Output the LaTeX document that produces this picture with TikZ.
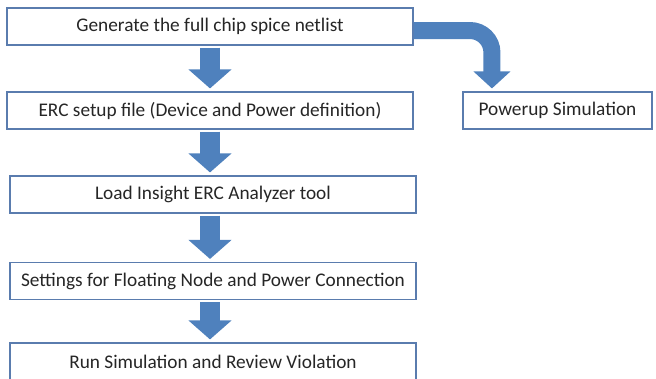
\documentclass[tikz,border=0pt]{standalone}
\usepackage{fontspec}
\setmainfont{Carlito}
\usepackage{tikz}
\usetikzlibrary{positioning}
\usetikzlibrary{arrows.meta,calc}

\definecolor{boxline}{HTML}{5A7CAE}
\definecolor{flowblue}{HTML}{4F81BD}
\definecolor{txt}{HTML}{262626}

\tikzset{
	stepbox/.style = {draw=boxline, line width=1.1pt, fill=white, text=txt,
		minimum width=406pt, minimum height=37pt, inner sep=0pt,
		font=\fontsize{19.3}{22}\selectfont},
	flow/.style = {draw=flowblue, line width=20pt,
		-{Triangle[width=42pt,length=19pt]},
		shorten <=2pt, shorten >=3pt},
	sideflow/.style = {draw=flowblue, line width=17pt, rounded corners=22pt,
		-{Triangle[width=36pt,length=17pt]},
		shorten >=3pt}
}

\begin{document}
\begin{tikzpicture}[x=1pt, y=-1pt]

	\clip (0,0) rectangle (656,378);

	%Boxes
	\node[stepbox] (gen) at (210,26.5) {Generate the full chip spice netlist};
	\node[stepbox] (erc) at (210,110.5) {ERC setup file (Device and Power definition)};
	\node[stepbox] (load) at (213,194.5) {Load Insight ERC Analyzer tool};
	\node[stepbox] (cfg) at (213,281) {Settings for Floating Node and Power Connection};
	\node[stepbox] (run) at (213,361.5) {Run Simulation and Review Violation};

	\node[stepbox, minimum width=189pt] (pwr) at (557.5,110.5) {Powerup Simulation};

	\coordinate (pwrin) at ([xshift=29.5pt]pwr.north west);

	%Arrows
	\draw[flow] (gen.south) -- (erc.north);
	\draw[flow] (erc.south) -- (erc.south |- load.north);
	\draw[flow] ([xshift=-3pt]load.south) -- ([xshift=-3pt]cfg.north);
	\draw[flow] ([xshift=-3pt]cfg.south) -- ([xshift=-3pt]run.north);

	\draw[sideflow] ([yshift=-4pt]gen.east) -| (pwrin); %bends down to the side box

\end{tikzpicture}
\end{document}
